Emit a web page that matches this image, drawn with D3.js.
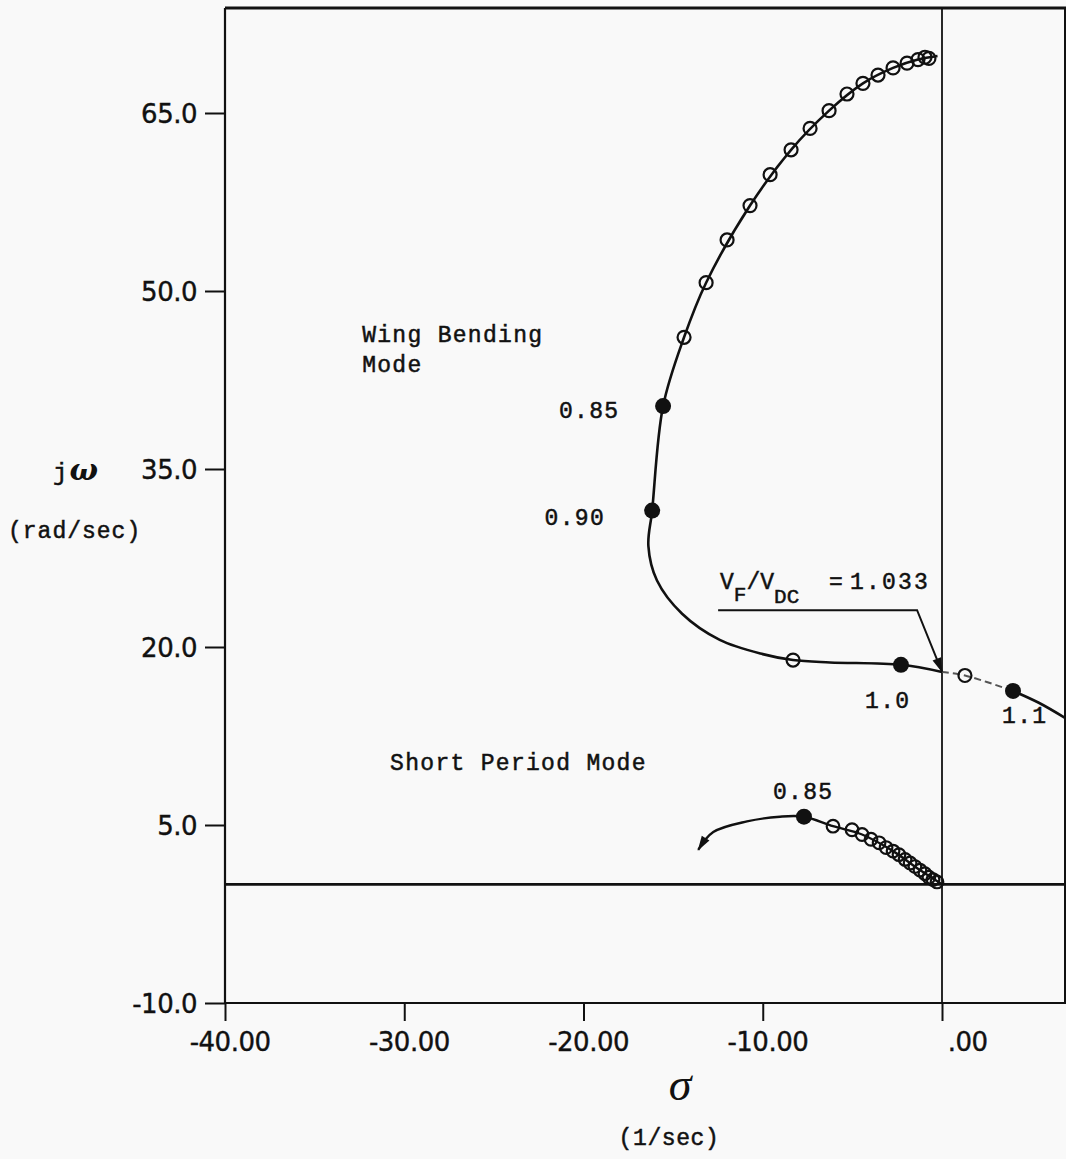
<!DOCTYPE html>
<html><head><meta charset="utf-8">
<script src="https://cdn.jsdelivr.net/npm/d3@7"></script>
<style>body{margin:0;background:#f9f9f9}</style></head>
<body><svg id="c" width="1066" height="1159"></svg>
<script>
// ---- axis ticks ----
const yTicks = [-10, 5, 20, 35, 50, 65];
const xTicks = [-40, -30, -20, -10, 0];

// ---- Wing bending mode locus (sigma, omega) ----
const wingLineSigma = [-0.25,-1.34,-2.73,-4.41,-6.30,-8.42,-10.71,-13.16,-14.39,-15.56,-16.17,-16.38,-15.9,-14.5,-12.4,-10.0,-8.31,-6.25,-2.29,0];
const wingLineOmega = [69.8,69.5,68.8,67.5,65.2,61.9,57.2,50.7,46.1,40.3,31.5,28.5,25.6,22.8,20.6,19.4,18.9,18.7,18.5,17.9];
const wingDashSigma = [0, 1.28, 3.96];
const wingDashOmega = [17.9, 17.6, 16.3];
const wingTailSigma = [3.96, 5.4, 7.0];
const wingTailOmega = [16.3, 15.3, 13.9];
const wingOpenSigma = [-0.73,-0.95,-1.34,-1.95,-2.73,-3.57,-4.41,-5.30,-6.30,-7.36,-8.42,-9.59,-10.71,-11.99,-13.16,-14.39,-8.31,1.28];
const wingOpenOmega = [69.6,69.7,69.5,69.2,68.8,68.2,67.5,66.6,65.2,63.7,61.9,59.8,57.2,54.3,50.7,46.1,18.9,17.6];
const wingFilledSigma = [-15.56,-16.17,-2.29,3.96];
const wingFilledOmega = [40.3,31.5,18.5,16.3];

// ---- Short period mode locus ----
const spLineSigma = [-13.6,-12.76,-10.88,-9.04,-7.70,-6.08,-4.46,-2.73,-1.23,0];
const spLineOmega = [2.9,4.4,5.3,5.7,5.7,4.9,4.2,2.8,1.2,0];
const spOpenSigma = [-6.08,-5.02,-4.46,-3.96,-3.51,-3.12,-2.73,-2.40,-2.06,-1.78,-1.51,-1.23,-0.95,-0.73,-0.50,-0.28];
const spOpenOmega = [4.9,4.6,4.2,3.8,3.5,3.1,2.8,2.5,2.1,1.8,1.5,1.2,0.9,0.6,0.4,0.2];
const spFilledSigma = [-7.70];
const spFilledOmega = [5.7];

// ---- annotation: flutter crossing ----
const flutterLeaderSigma = [-12.49, -1.39, 0];
const flutterLeaderOmega = [23.1, 23.1, 17.9];

const svg = d3.select("#c");
const W = 1066, H = 1159;
const x = d3.scaleLinear().domain([-40, 0]).range([225, 942]);
const y = d3.scaleLinear().domain([-10, 65]).range([1003, 113]);
const xRight = 1065, yTop = 8;
const ink = "#111";
const mono = "'Liberation Mono', 'DejaVu Sans Mono', monospace";
const plot = "'DejaVu Sans', sans-serif";

svg.append("rect").attr("width", W).attr("height", H).attr("fill", "#f9f9f9");

const defs = svg.append("defs");
defs.append("marker").attr("id", "arr").attr("markerUnits", "userSpaceOnUse")
  .attr("markerWidth", 20).attr("markerHeight", 12).attr("viewBox", "0 -6 16 12")
  .attr("refX", 14).attr("refY", 0).attr("orient", "auto-start-reverse")
  .append("path").attr("d", "M0,-4.5 L15,0 L0,4.5 Z").attr("fill", ink);

// frame
const frame = svg.append("g").attr("stroke", ink).attr("fill", "none");
frame.append("line").attr("x1", x(-40)).attr("x2", W).attr("y1", yTop).attr("y2", yTop).attr("stroke-width", 3);
frame.append("line").attr("x1", xRight).attr("x2", xRight).attr("y1", yTop).attr("y2", y(-10)).attr("stroke-width", 2);
frame.append("line").attr("x1", x(0)).attr("x2", x(0)).attr("y1", yTop).attr("y2", y(-10)).attr("stroke-width", 1.8);
frame.append("line").attr("x1", x(-40)).attr("x2", W).attr("y1", y(0)).attr("y2", y(0)).attr("stroke-width", 2.6);

const hy = s => s.replace("\u2212", "-");

// axes
const yAxis = svg.append("g").attr("transform", `translate(${x(-40)},0)`)
  .call(d3.axisLeft(y).tickValues(yTicks).tickSize(20).tickPadding(8).tickFormat(v => hy(d3.format(".1f")(v))));
yAxis.select(".domain").attr("d", `M0,${yTop}V${y(-10)}`).attr("stroke", ink).attr("stroke-width", 2.2);
yAxis.selectAll(".tick line").attr("stroke", ink).attr("stroke-width", 2);
yAxis.selectAll(".tick text").attr("font-family", plot).attr("font-size", 26).attr("fill", ink)
  .attr("dy", "0.36em").attr("letter-spacing", "-0.5px").attr("stroke", ink).attr("stroke-width", 0.4);

const xAxis = svg.append("g").attr("transform", `translate(0,${y(-10)})`)
  .call(d3.axisBottom(x).tickValues(xTicks).tickSize(18).tickPadding(12)
    .tickFormat(v => v === 0 ? ".00" : hy(d3.format(".2f")(v))));
xAxis.select(".domain").attr("d", `M${x(-40)},0H${W}`).attr("stroke", ink).attr("stroke-width", 2.2);
xAxis.selectAll(".tick line").attr("stroke", ink).attr("stroke-width", 2);
xAxis.selectAll(".tick text").attr("font-family", plot).attr("font-size", 26).attr("fill", ink)
  .attr("text-anchor", "end").attr("x", 45).attr("letter-spacing", "-0.5px").attr("stroke", ink).attr("stroke-width", 0.4);

const zip = (a, b) => a.map((v, i) => [v, b[i]]);
const line = d3.line().x(d => x(d[0])).y(d => y(d[1])).curve(d3.curveCatmullRom.alpha(0.5));

// wing bending curve
svg.append("path").datum(zip(wingLineSigma, wingLineOmega)).attr("d", line)
  .attr("fill", "none").attr("stroke", ink).attr("stroke-width", 2.6);
svg.append("path").datum(zip(wingDashSigma, wingDashOmega)).attr("d", line)
  .attr("fill", "none").attr("stroke", "#555").attr("stroke-width", 2).attr("stroke-dasharray", "7,4");
svg.append("path").datum(zip(wingTailSigma, wingTailOmega)).attr("d", line)
  .attr("fill", "none").attr("stroke", ink).attr("stroke-width", 2.6);

// short period curve
svg.append("path").datum(zip(spLineSigma, spLineOmega)).attr("d", line)
  .attr("fill", "none").attr("stroke", ink).attr("stroke-width", 2.4)
  .attr("marker-start", "url(#arr)");

// markers
function openPts(sx, sy, r) {
  svg.append("g").selectAll("circle").data(zip(sx, sy)).join("circle")
    .attr("cx", d => x(d[0])).attr("cy", d => y(d[1])).attr("r", r)
    .attr("fill", "none").attr("stroke", ink).attr("stroke-width", 2.2);
}
function filledPts(sx, sy, r) {
  svg.append("g").selectAll("circle").data(zip(sx, sy)).join("circle")
    .attr("cx", d => x(d[0])).attr("cy", d => y(d[1])).attr("r", r).attr("fill", ink);
}
openPts(wingOpenSigma, wingOpenOmega, 6.5);
filledPts(wingFilledSigma, wingFilledOmega, 8);
openPts(spOpenSigma, spOpenOmega, 6.3);
filledPts(spFilledSigma, spFilledOmega, 8);

// flutter leader line
svg.append("path").datum(zip(flutterLeaderSigma, flutterLeaderOmega))
  .attr("d", d3.line().x(d => x(d[0])).y(d => y(d[1])))
  .attr("fill", "none").attr("stroke", ink).attr("stroke-width", 2)
  .attr("marker-end", "url(#arr)");

// text
function txt(px, py, s, opt = {}) {
  return svg.append("text").attr("x", px).attr("y", py).text(s)
    .attr("font-family", opt.family || mono).attr("font-size", opt.size || 23)
    .attr("letter-spacing", opt.ls !== undefined ? opt.ls : "1.3px")
    .attr("text-anchor", opt.anchor || "start").attr("fill", ink)
    .attr("stroke", ink).attr("stroke-width", opt.sw !== undefined ? opt.sw : 0.5)
    .attr("font-style", opt.style || null).attr("font-weight", opt.weight || null);
}
txt(x(-32.35), y(45.7), "Wing Bending");
txt(x(-32.35), y(43.2), "Mode");
txt(x(-18.0), y(39.3), "0.85", {anchor: "end"});
txt(x(-18.8), y(30.3), "0.90", {anchor: "end"});
txt(x(-4.29), y(14.9), "1.0");
txt(x(3.35), y(13.6), "1.1");
txt(x(-30.79), y(9.6), "Short Period Mode");
txt(x(-9.43), y(7.2), "0.85");

// V_F / V_DC = 1.033
const vf = svg.append("text").attr("x", 720).attr("y", y(24.9))
  .attr("font-family", mono).attr("font-size", 23).attr("fill", ink)
  .attr("stroke", ink).attr("stroke-width", 0.5);
vf.append("tspan").text("V");
vf.append("tspan").attr("dy", 12).attr("font-size", 21).text("F");
vf.append("tspan").attr("dy", -12).text("/V");
vf.append("tspan").attr("dy", 14).attr("font-size", 21).text("DC");
vf.append("tspan").attr("dy", -14).attr("x", 829).text("=");
vf.append("tspan").attr("x", 850).attr("letter-spacing", "2.2px").text("1.033");

// axis titles
const jw = svg.append("text").attr("x", 53).attr("y", 480).attr("fill", ink);
jw.append("tspan").attr("font-family", mono).attr("font-size", 24).attr("stroke", ink).attr("stroke-width", 0.5).text("j");
jw.append("tspan").attr("font-family", "'DejaVu Serif', serif").attr("font-style", "italic")
  .attr("font-weight", "bold").attr("font-size", 30).attr("dx", 2).text("ω");
txt(8, 538, "(rad/sec)", {ls: "1.0px"});
txt(680, 1100, "σ", {family: "'Liberation Serif', serif", size: 46, style: "italic", anchor: "middle", ls: 0, sw: 0});
txt(669, 1145, "(1/sec)", {anchor: "middle", ls: "0.6px"});
</script></body></html>
